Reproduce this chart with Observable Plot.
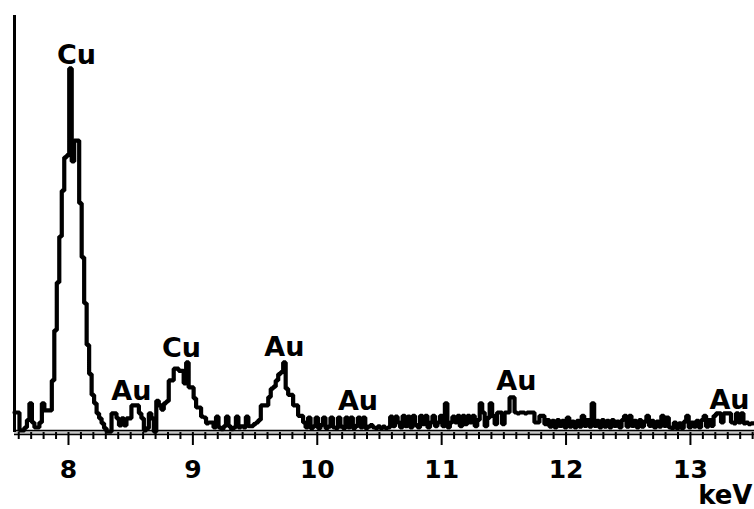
<!DOCTYPE html>
<html><head><meta charset="utf-8">
<script src="https://cdn.jsdelivr.net/npm/d3@7"></script>
<script src="https://cdn.jsdelivr.net/npm/@observablehq/plot@0.6"></script>
<style>html,body{margin:0;padding:0;background:#fff;}</style>
</head><body><div id="chart"></div>
<script>
// EDS spectrum: counts per 0.02 keV channel, starting at 7.566 keV
const binStart = 7.566;
const binWidth = 0.02;
const counts = [
  4.8, 4.8, 0.5, 0.5, 1.2, 3.0, 7.0, 2.4, 1.2, 1.2, 2.4, 7.0, 5.3, 5.3, 5.3,
  12.5, 24.5, 36, 47, 58, 66, 66.5, 87.3, 65, 70, 70, 55, 42, 31, 21,
  14, 9, 7, 4.6, 3.4, 2.2, 1.0, 0.2, 0.2, 4.6, 4.6, 3.4, 1.7, 3.4, 1.7,
  3.4, 3.4, 6.5, 6.5, 6.5, 4.6, 3.4, 0.5, 1.0, 4.6, 3.4, 0.2, 7.6, 6.5, 5.5,
  7.0, 7.5, 12.5, 12.5, 15.3, 15.3, 14.8, 14.8, 11.8, 16.8, 10.8, 10.8, 8.2, 6.0, 6.0,
  3.8, 3.6, 2.2, 2.4,
  2.4, 1.2, 3.8, 1.2, 0.8, 1.5, 3.8, 1.5, 0.8, 1.2, 3.8, 1.2, 1.5, 1.2, 3.8, 1.5, 1.5, 2.0,
  2.4, 3.0, 6.5, 6.5, 6.5, 8.5, 10.5, 11, 12.5, 14, 14.5, 16.8, 10.5, 9, 9, 6.5, 6.5, 4, 4,
  2.4, 1.2, 3.6, 1.0, 1.5, 3.6, 1.0, 1.8, 3.6, 1.0, 1.4, 3.6,
  1.2, 1.0, 3.6, 1.4, 1.0, 3.6, 1.2, 3.6, 1.0, 1.6, 3.6, 1.2,
  3.6, 1.0, 1.4, 1.8, 1.2, 1.0, 1.5, 1.0, 1.4, 1.0, 1.2, 3.8,
  1.5, 3.8, 2.4, 1.2, 4.0, 1.5, 3.8, 1.2, 4.0, 1.8, 1.2, 4.0,
  2.0, 4.0, 1.2, 2.4, 4.0, 1.5, 2.4, 4.0, 1.5, 7.0, 1.2, 2.4,
  3.8, 2.4, 4.0, 1.5, 4.0, 2.0, 4.0, 2.4, 4.0, 1.5, 3.0, 7.0,
  4.8, 1.5, 3.5, 7.0, 4.0, 2.0, 4.8, 4.8, 2.0, 4.8, 4.8, 8.4,
  8.4, 4.8, 4.6, 4.8, 4.8, 4.6, 4.8, 4.8, 4.8, 2.4, 2.4, 4.0,
  4.0,
  2.0, 3.0, 1.4, 2.8, 1.2, 3.0, 1.6, 2.8, 1.2, 3.6, 1.4, 2.6,
  1.2, 2.8, 1.4, 4.0, 1.6, 3.0, 1.4, 7.0, 1.6, 2.8, 1.2, 3.0,
  1.4, 2.8, 1.2, 3.0, 1.6, 2.6, 1.2, 3.0, 4.0, 1.4, 4.0, 1.6,
  2.8, 1.2, 3.0, 1.4, 2.6, 4.0, 1.6, 2.8, 1.2, 2.6, 1.4, 4.0,
  1.6, 3.6, 1.2, 1.0, 2.4, 1.0, 2.2, 1.0, 2.6, 4.0, 1.2, 2.4,
  1.4, 2.8, 1.2, 3.0, 4.0, 1.4, 3.0, 1.6, 4.0,
  4.6, 4.6, 2.4, 4.6, 4.6, 4.6, 2.4, 2.2, 4.6, 2.4, 4.6, 2.2, 2.4, 2.0,
  2.2
];
const majorTicks = [8, 9, 10, 11, 12, 13];
const peakLabels = ["Cu", "Au", "Cu", "Au", "Au", "Au", "Au"];
const peakEnergy = [8.064, 8.506, 8.908, 9.736, 10.327, 11.601, 13.314];
const peakLabelLevel = [90.4, 9.8, 20.1, 20.4, 7.4, 12.2, 7.7];
const axisUnit = "keV";

const spectrum = counts.map((c, i) => ({keV: binStart + i * binWidth, counts: c}));
spectrum.push({keV: binStart + counts.length * binWidth, counts: counts[counts.length - 1]});
const minorTicks = d3.range(76, 136).map(d => d / 10).filter(d => !majorTicks.includes(d));
const labels = peakLabels.map((t, i) => ({t, x: peakEnergy[i], y: peakLabelLevel[i]}));

const chart = Plot.plot({
  width: 754,
  height: 509,
  marginTop: 15,
  marginBottom: 77,
  marginLeft: 14,
  marginRight: 0,
  x: {domain: [7.566, 13.515]},
  y: {domain: [0, 100], axis: null},
  style: {fontFamily: "'DejaVu Sans', sans-serif", fontWeight: "bold", background: "#fff", color: "#000"},
  marks: [
    Plot.ruleY([0], {stroke: "#c8c8c8", strokeWidth: 3}),
    Plot.ruleY([0], {stroke: "#000", strokeWidth: 1.4, dy: -2}),
    Plot.ruleY([0], {stroke: "#000", strokeWidth: 1.4, dy: 2}),
    Plot.lineY(spectrum, {x: "keV", y: "counts", curve: "step-after", stroke: "#000", strokeWidth: 4.2, strokeLinejoin: "miter"}),
    Plot.ruleX([7.566], {y1: 0, y2: 100, stroke: "#000", strokeWidth: 3}),
    Plot.axisX({ticks: minorTicks, tickSize: 7, strokeWidth: 2, tickFormat: () => ""}),
    Plot.axisX({ticks: majorTicks, tickSize: 13, strokeWidth: 2, tickPadding: 15, fontSize: 25, tickFormat: d => String(d)}),
    Plot.text(labels, {x: "x", y: "y", text: "t", fontSize: 27, fontWeight: "bold", fill: "#000"}),
    Plot.text([axisUnit], {frameAnchor: "bottom-right", dx: -2, dy: 71, textAnchor: "end", fontSize: 26, fontWeight: "bold", fill: "#000"})
  ]
});
document.getElementById("chart").appendChild(chart);
</script>
</body></html>
